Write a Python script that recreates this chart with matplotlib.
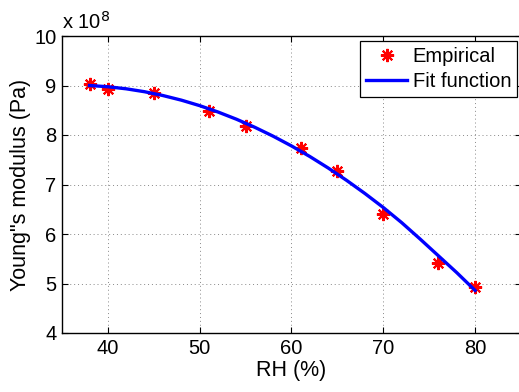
import matplotlib
matplotlib.use("Agg")
import matplotlib.pyplot as plt

plt.rcParams['font.family'] = ['Liberation Sans', 'DejaVu Sans']

# relative humidity (%) and Young's modulus (x 1e8 Pa)
rh_emp = [38, 40, 45, 51, 55, 61, 65, 70, 76, 80]
E_emp = [9.03, 8.92, 8.84, 8.48, 8.18, 7.73, 7.28, 6.41, 5.41, 4.93]

# fit curve
rh_fit = [38, 40, 42, 44, 46, 48, 50, 52, 54, 56, 58, 60,
          62, 64, 66, 68, 70, 72, 74, 76, 78, 80]
E_fit = [9.00, 8.975, 8.933, 8.874, 8.797, 8.704, 8.593, 8.464, 8.319, 8.156, 7.976, 7.779,
         7.565, 7.333, 7.084, 6.818, 6.535, 6.23, 5.90, 5.56, 5.22, 4.86]

x_ticks = [40, 50, 60, 70, 80]
y_ticks = [4, 5, 6, 7, 8, 9, 10]

fs = 14.5
fs_lab = 15.5

fig = plt.figure(figsize=(5.19, 3.92), dpi=100)
ax = fig.add_axes([62 / 519, 59 / 392, 459 / 519, 297 / 392])

# matlab-like asterisk marker
ax.plot(rh_emp, E_emp, linestyle='none', marker=(8, 2, 0), color='red',
        markersize=9.5, markeredgewidth=1.5, label='Empirical')
ax.plot(rh_fit, E_fit, color='blue', linewidth=2.4, label='Fit function')

ax.set_xlim(35, 85)
ax.set_ylim(4, 10)
ax.set_xticks(x_ticks)
ax.set_yticks(y_ticks)
ax.tick_params(direction='in', top=True, right=True, labelsize=fs, length=4, width=0.8, pad=4)
ax.grid(True, linestyle=(0, (1, 3)), color='#888888', linewidth=0.7)
for s in ax.spines.values():
    s.set_linewidth(1.0)

ax.set_xlabel('RH (%)', fontsize=fs_lab, labelpad=2)
ax.set_ylabel('Young"s modulus (Pa)', fontsize=fs_lab, labelpad=2)
ax.text(0.0, 1.01, r'x 10$^{8}$', transform=ax.transAxes, fontsize=fs,
        ha='left', va='bottom')

leg = ax.legend(loc='upper right', bbox_to_anchor=(0.992, 0.982), fontsize=fs,
                fancybox=False, framealpha=1, edgecolor='black',
                handlelength=2.0, handletextpad=0.3, borderpad=0.3,
                labelspacing=0.3, borderaxespad=0)
leg.get_frame().set_linewidth(0.9)

fig.savefig('out.png', dpi=100)
